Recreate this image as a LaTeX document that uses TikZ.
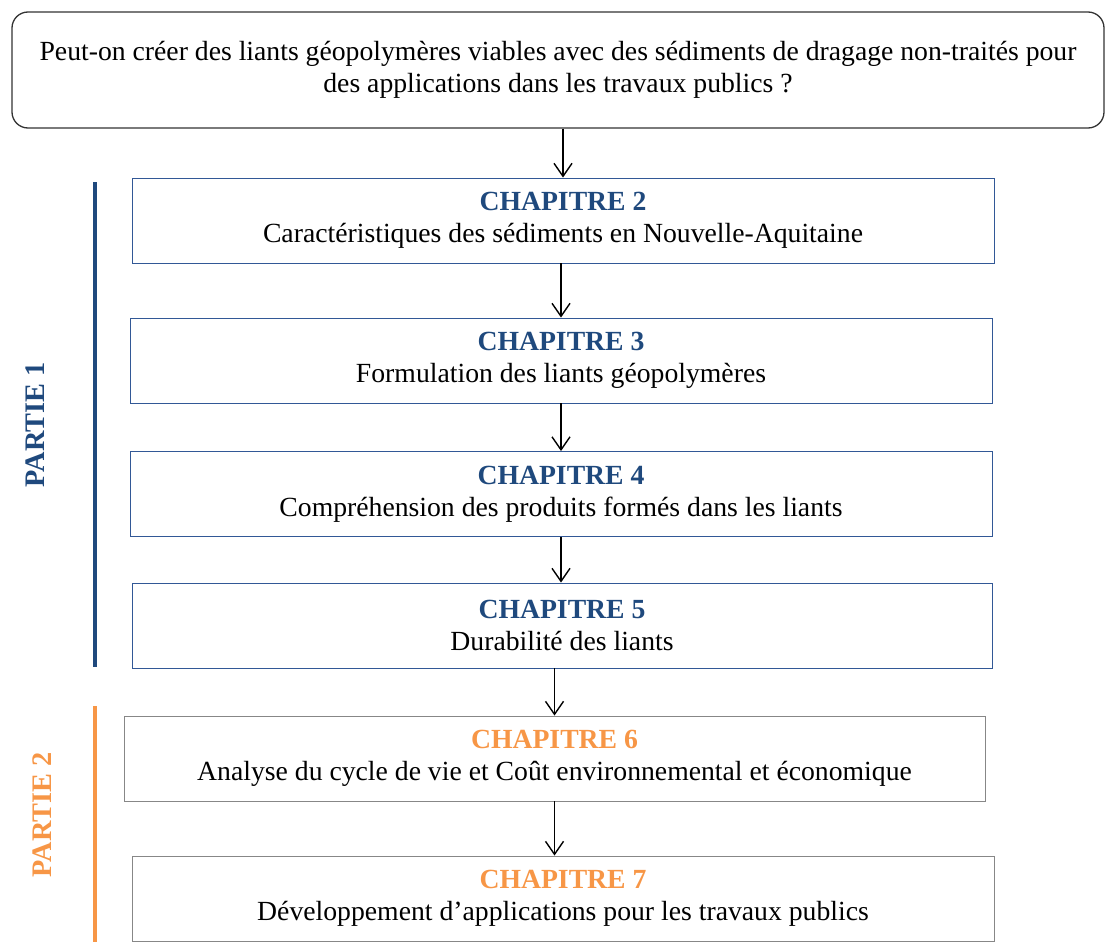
\documentclass[tikz,border=0pt]{standalone}
\usepackage{fontspec}
\setmainfont{Liberation Serif}
\usepackage{xcolor}
\usepackage{tikz}
\usetikzlibrary{arrows.meta,positioning}
\definecolor{partblue}{RGB}{31,73,125}
\definecolor{boxblue}{RGB}{50,88,150}
\definecolor{partorange}{RGB}{247,150,70}
\definecolor{boxgray}{RGB}{135,135,135}
\begin{document}
\begin{tikzpicture}[
  x=1pt,y=-1pt,
  chap/.style={draw=boxblue,line width=0.9pt,minimum width=862pt,minimum height=85pt,
               align=center,inner sep=0pt,font=\fontsize{27.7}{32}\selectfont},
  chapg/.style={chap,draw=boxgray},
  arr/.style={-{Straight Barb[length=13pt,width=18pt,line width=1.4pt]},line width=1.4pt},
  part/.style={rotate=90,font=\fontsize{28.3}{30}\selectfont\bfseries}
]
  \useasboundingbox (0,0) rectangle (1105,942);
  \node[draw=black!80,line width=1.3pt,rounded corners=16pt,minimum width=1092pt,minimum height=116pt,
        align=center,font=\fontsize{27.7}{32}\selectfont] (quest) at (558,70)
    {Peut-on créer des liants géopolymères viables avec des sédiments de dragage non-traités pour\\
     des applications dans les travaux publics ?};
  \node[chap]  (ch2) at (563,220.5) {{\color{partblue}\bfseries CHAPITRE 2}\\Caractéristiques des sédiments en Nouvelle-Aquitaine};
  \node[chap]  (ch3) at (561,360.5) {{\color{partblue}\bfseries CHAPITRE 3}\\Formulation des liants géopolymères};
  \node[chap]  (ch4) at (561,494)   {{\color{partblue}\bfseries CHAPITRE 4}\\Compréhension des produits formés dans les liants};
  \node[chap,minimum width=860pt] (ch5) at (562,625.5) {{\color{partblue}\bfseries CHAPITRE 5}\\Durabilité des liants};
  \node[chapg,minimum width=861pt] (ch6) at (554.5,758.5) {{\color{partorange}\bfseries CHAPITRE 6}\\Analyse du cycle de vie et Coût environnemental et économique};
  \node[chapg] (ch7) at (563,898.5) {{\color{partorange}\bfseries CHAPITRE 7}\\Développement d’applications pour les travaux publics};
  \draw[arr] (quest.south -| ch2.north) -- (ch2.north);
  \draw[arr] (ch2.south -| ch3.north) -- (ch3.north);
  \draw[arr] (ch3.south) -- (ch4.north);
  \draw[arr] (ch4.south) -- (ch4.south |- ch5.north);
  \draw[arr] (ch5.south -| ch6.north) -- (ch6.north);
  \draw[arr] (ch6.south) -- (ch6.south |- ch7.north);
  \coordinate (p1top) at (95,182);
  \coordinate (p1bot) at (95,667);
  \coordinate (p2top) at (95,706);
  \coordinate (p2bot) at (95,942);
  \draw[partblue,line width=3.5pt] (p1top) -- (p1bot);
  \draw[partorange,line width=3.5pt] (p2top) -- (p2bot);
  \node[part,text=partblue]   (part1) at (35,425) {PARTIE 1};
  \node[part,text=partorange] (part2) at (42,815) {PARTIE 2};
\end{tikzpicture}
\end{document}
